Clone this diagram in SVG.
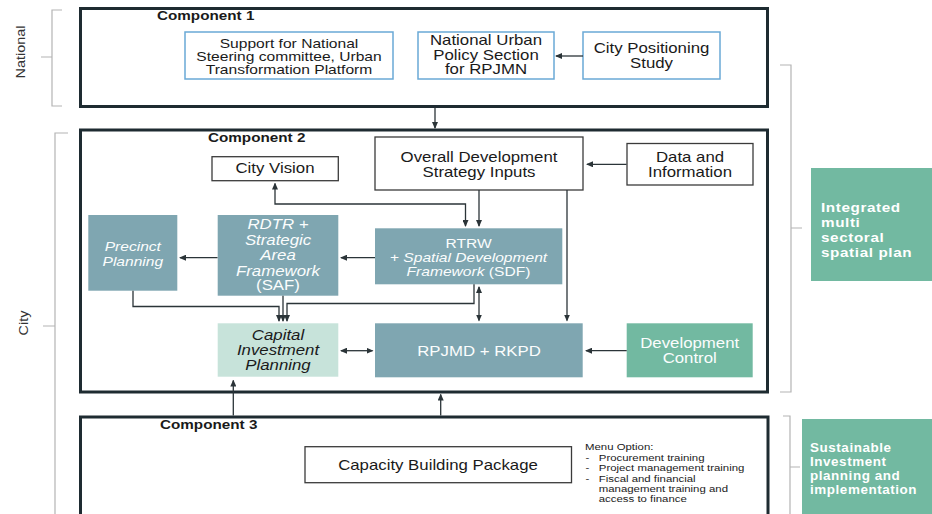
<svg xmlns="http://www.w3.org/2000/svg" width="932" height="514" viewBox="0 0 932 514">
<style>
.comp{fill:#fff;stroke:#1e2b31;stroke-width:3}
.b1{fill:#fff;stroke:#6aa9d6;stroke-width:1.5}
.wb{fill:#fff;stroke:#3b3b3b;stroke-width:1.3}
.teal{fill:#7fa6b1}
.green{fill:#72b9a1}
.capf{fill:#c7e3da}
.t{font-family:"Liberation Sans",Arial,sans-serif;font-size:14px;fill:#1a1a1a;text-anchor:middle}
.s13{font-size:13px}
.w{fill:#fbfdfd}
.i{font-style:italic}
.n{font-style:normal}
.hd{font-weight:bold;font-size:12.5px;text-anchor:start}
.side{font-weight:bold;font-size:12px;letter-spacing:0.5px;fill:#fff;text-anchor:start}
.menu{font-size:9.5px;text-anchor:start}
.lbl{font-size:12px;fill:#333}
.conn path{fill:none;stroke:#2b3438;stroke-width:1.3}
.br{fill:none;stroke:#b4b4b4;stroke-width:1.2}
</style>
<defs>
<marker id="ah" markerUnits="userSpaceOnUse" markerWidth="7" markerHeight="6" refX="6" refY="3" orient="auto-start-reverse">
<path d="M0,0 L7,3 L0,6 z" fill="#2b3438"/>
</marker>
</defs>
<rect width="932" height="514" fill="#fff"/>

<g id="brackets">
<path class="br" d="M62,10 L52,10 L52,106 L62,106 M52,57 L41,57"/>
<path class="br" d="M68,133 L55,133 L55,520 M55,326 L43,326"/>
<path class="br" d="M780,65 L791,65 L791,392 L780,392 M791,228 L802,228"/>
<path class="br" d="M783,416 L790,416 L790,520 M790,467 L800,467"/>
<text class="t lbl" transform="translate(25 52) rotate(-90) scale(1.2 1)" x="0" y="0">National</text>
<text class="t lbl" transform="translate(28 323) rotate(-90) scale(1.2 1)" x="0" y="0">City</text>
</g>

<g id="component1">
<rect class="comp" x="80.5" y="8.5" width="687" height="98"/>
<text class="t hd" transform="translate(157 0) scale(1.22 1)" x="0" y="20.5">Component 1</text>
</g>
<g id="component2">
<rect class="comp" x="80.5" y="130" width="687" height="262"/>
<text class="t hd" transform="translate(208 0) scale(1.22 1)" x="0" y="142">Component 2</text>
</g>
<g id="component3">
<rect class="comp" x="80.5" y="417" width="687.5" height="120"/>
<text class="t hd" transform="translate(160 0) scale(1.22 1)" x="0" y="429.5">Component 3</text>
</g>

<g id="support-national">
<rect class="b1" x="185" y="32" width="208" height="47"/>
<text class="t s13" transform="translate(289 0) scale(1.2 1)"><tspan x="0" y="48.5">Support for National</tspan><tspan x="0" y="61.5">Steering committee, Urban</tspan><tspan x="0" y="74.5">Transformation Platform</tspan></text>
</g>
<g id="national-urban-policy">
<rect class="b1" x="418" y="32" width="136" height="47"/>
<text class="t" transform="translate(486 0) scale(1.2 1)"><tspan x="0" y="45.5">National Urban</tspan><tspan x="0" y="60">Policy Section</tspan><tspan x="0" y="74.5">for RPJMN</tspan></text>
</g>
<g id="city-positioning">
<rect class="b1" x="583" y="32" width="137" height="47"/>
<text class="t" transform="translate(651.5 0) scale(1.2 1)"><tspan x="0" y="53.5">City Positioning</tspan><tspan x="0" y="68">Study</tspan></text>
</g>

<g id="odsi">
<rect class="wb" x="375" y="137" width="208" height="53"/>
<text class="t" transform="translate(479 0) scale(1.2 1)"><tspan x="0" y="162.3">Overall Development</tspan><tspan x="0" y="176.7">Strategy Inputs</tspan></text>
</g>
<g id="data-information">
<rect class="wb" x="627" y="143.5" width="126" height="41.5"/>
<text class="t" transform="translate(690 0) scale(1.2 1)"><tspan x="0" y="162.3">Data and</tspan><tspan x="0" y="176.7">Information</tspan></text>
</g>
<g id="city-vision">
<rect class="wb" x="212" y="156.7" width="126.3" height="24"/>
<text class="t" transform="translate(275 0) scale(1.2 1)" x="0" y="173.3">City Vision</text>
</g>
<g id="rtrw">
<rect class="teal" x="375" y="228.3" width="187.3" height="56"/>
<text class="t s13 w" transform="translate(468.5 0) scale(1.2 1)"><tspan x="0" y="248">RTRW</tspan><tspan x="0" y="261.6">+ <tspan class="i">Spatial Development</tspan></tspan><tspan x="0" y="275.8"><tspan class="i">Framework</tspan> (SDF)</tspan></text>
</g>
<g id="saf">
<rect class="teal" x="217.7" y="215" width="120.6" height="80.7"/>
<text class="t w i" transform="translate(278 0) scale(1.2 1)"><tspan x="0" y="229.3">RDTR +</tspan><tspan x="0" y="245">Strategic</tspan><tspan x="0" y="260">Area</tspan><tspan x="0" y="275.7">Framework</tspan><tspan x="0" y="290.5" class="n">(SAF)</tspan></text>
</g>
<g id="precinct">
<rect class="teal" x="88.3" y="215" width="89" height="75.7"/>
<text class="t s13 w i" transform="translate(132.8 0) scale(1.2 1)"><tspan x="0" y="251.3">Precinct</tspan><tspan x="0" y="265.6">Planning</tspan></text>
</g>
<g id="capital-investment">
<rect class="capf" x="217.7" y="323.3" width="120.6" height="53.4"/>
<text class="t i" fill="#222" transform="translate(278 0) scale(1.2 1)"><tspan x="0" y="340">Capital</tspan><tspan x="0" y="355">Investment</tspan><tspan x="0" y="370">Planning</tspan></text>
</g>
<g id="rpjmd">
<rect class="teal" x="375" y="323.3" width="207.7" height="54"/>
<text class="t w" transform="translate(479 0) scale(1.2 1)" x="0" y="355.7">RPJMD + RKPD</text>
</g>
<g id="development-control">
<rect class="green" x="626.7" y="323.3" width="126" height="54"/>
<text class="t w" transform="translate(689.7 0) scale(1.2 1)"><tspan x="0" y="348.3">Development</tspan><tspan x="0" y="363.3">Control</tspan></text>
</g>

<g id="capacity-building">
<rect class="wb" x="305" y="446.7" width="266.5" height="36"/>
<text class="t" transform="translate(438 0) scale(1.2 1)" x="0" y="470.5">Capacity Building Package</text>
</g>
<g id="menu-option">
<text class="t menu" transform="translate(585 0) scale(1.2 1)"><tspan x="0" y="450">Menu Option:</tspan><tspan x="0.5" y="460.6">-</tspan><tspan x="11.5" y="460.6">Procurement training</tspan><tspan x="0.5" y="471">-</tspan><tspan x="11.5" y="471">Project management training</tspan><tspan x="0.5" y="481.6">-</tspan><tspan x="11.5" y="481.6">Fiscal and financial</tspan><tspan x="11.5" y="491.6">management training and</tspan><tspan x="11.5" y="502">access to finance</tspan></text>
</g>

<g id="integrated-plan">
<rect class="green" x="811" y="168" width="121" height="113"/>
<text class="t side" style="font-size:12.5px" transform="translate(821 0) scale(1.22 1)"><tspan x="0" y="212.5">Integrated</tspan><tspan x="0" y="227.5">multi</tspan><tspan x="0" y="242.5">sectoral</tspan><tspan x="0" y="257.5">spatial plan</tspan></text>
</g>
<g id="sustainable-investment">
<rect class="green" x="802" y="419" width="130" height="100"/>
<text class="t side" transform="translate(810 0) scale(1.12 1)"><tspan x="0" y="452">Sustainable</tspan><tspan x="0" y="466">Investment</tspan><tspan x="0" y="480">planning and</tspan><tspan x="0" y="494">implementation</tspan></text>
</g>

<g id="connectors" class="conn">
<path d="M583,56 L556,56" marker-end="url(#ah)"/>
<path d="M435,107.5 L435,128" marker-end="url(#ah)"/>
<path d="M626.5,164.3 L587,164.3" marker-end="url(#ah)"/>
<path d="M479,190 L479,226" marker-end="url(#ah)"/>
<path d="M275,183.5 L275,204 L465.5,204 L465.5,226" marker-start="url(#ah)" marker-end="url(#ah)"/>
<path d="M375,257.7 L341,257.7" marker-end="url(#ah)"/>
<path d="M217.5,257.7 L180,257.7" marker-end="url(#ah)"/>
<path d="M133,290.7 L133,306.5 L279,306.5 L279,321" marker-end="url(#ah)"/>
<path d="M283,295.7 L283,321" marker-end="url(#ah)"/>
<path d="M474,284.3 L474,303.5 L287,303.5 L287,321" marker-end="url(#ah)"/>
<path d="M479,287 L479,320.5" marker-start="url(#ah)" marker-end="url(#ah)"/>
<path d="M567,190 L567,320.5" marker-end="url(#ah)"/>
<path d="M341,350.7 L372.5,350.7" marker-start="url(#ah)" marker-end="url(#ah)"/>
<path d="M626.7,350.7 L586,350.7" marker-end="url(#ah)"/>
<path d="M233.3,415.5 L233.3,380.5" marker-end="url(#ah)"/>
<path d="M440.7,415.5 L440.7,394.5" marker-end="url(#ah)"/>
</g>
</svg>
